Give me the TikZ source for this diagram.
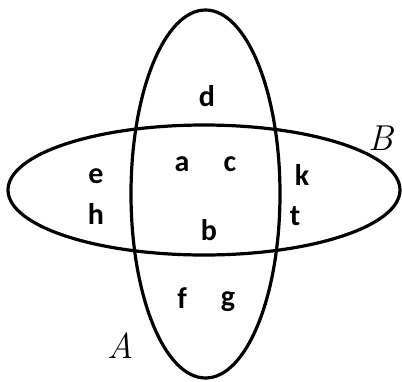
\documentclass[tikz,border=0pt]{standalone}
\usepackage{fontspec}
\setsansfont{Carlito}
\definecolor{inkline}{HTML}{000000}
\usetikzlibrary{positioning, calc}
\tikzset{
  setline/.style={draw=inkline, line width=3.2pt},
  elt/.style={font=\fontsize{30}{30}\selectfont\sffamily\bfseries, text=inkline, inner sep=0pt},
  setname/.style={font=\fontsize{36}{36}\selectfont\rmfamily\itshape, text=inkline, inner sep=0pt},
}

\begin{document}
\begin{tikzpicture}[x=1pt, y=-1pt]
  \useasboundingbox (0,0) rectangle (402,381);

  % Sets
  \draw[setline] (205.5,194) ellipse [x radius=74.5, y radius=184];
  \draw[setline] (204,190) ellipse [x radius=196, y radius=65];

  % Set names
  \node[setname] (nameA) at (121,346) {A};
  \node[setname] (nameB) at (381,138) {B};

  % Elements
  \node[elt] (d) at (207,96) {d};
  \node[elt] (a) at (182,164) {a};
  \node[elt] (c) at (230,164) {c};
  \node[elt] (b) at (209,230) {b};
  \node[elt] (e) at (96,176) {e};
  \node[elt] (h) at (96,214) {h};
  \node[elt] (k) at (302,175) {k};
  \node[elt] (t) at (295,216) {t};
  \node[elt] (f) at (182,298) {f};
  \node[elt] (g) at (228,302) {g};
\end{tikzpicture}
\end{document}
